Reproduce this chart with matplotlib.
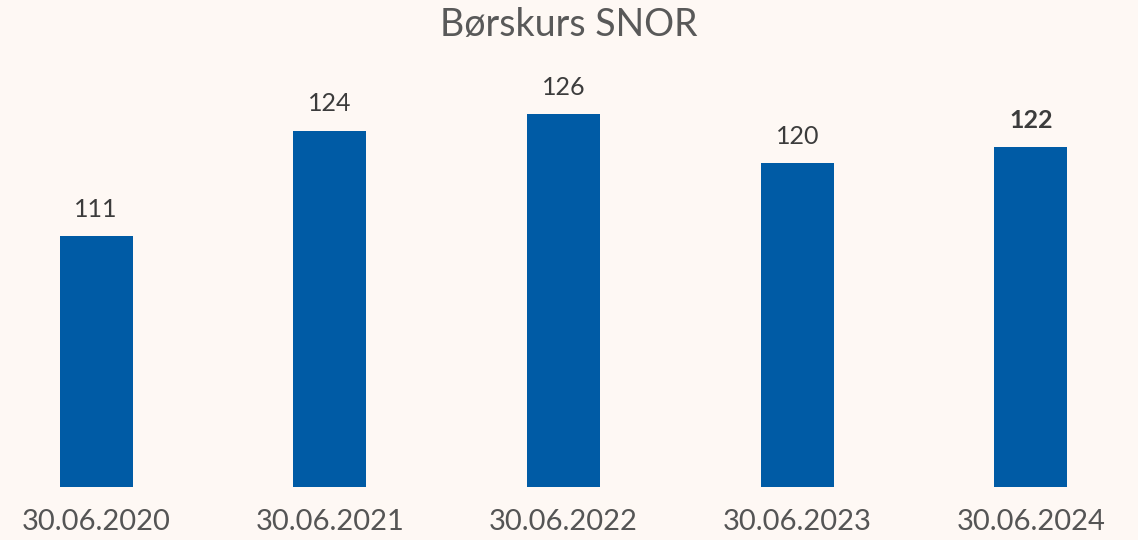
import matplotlib
matplotlib.use('Agg')
import matplotlib.pyplot as plt

dates = ['30.06.2020', '30.06.2021', '30.06.2022', '30.06.2023', '30.06.2024']
kurs = [111, 124, 126, 120, 122]
labels = ['111', '124', '126', '120', '122']

bg = '#FEF8F4'
bar_col = '#005BA5'

plt.rcParams['font.family'] = ['Lato', 'DejaVu Sans']

fig = plt.figure(figsize=(11.38, 5.4), dpi=100, facecolor=bg)
ax = fig.add_axes([0, 0.098, 1, 0.825])
ax.set_facecolor(bg)

x = list(range(len(kurs)))
ax.bar(x, kurs, width=0.312, color=bar_col, bottom=0)

for i, (v, lab) in enumerate(zip(kurs, labels)):
    last = i == len(kurs) - 1
    ax.annotate(lab, (i, v), xytext=(0, 11), textcoords='offset points',
                ha='center', va='bottom', fontsize=18,
                color='#3C3C3C', fontweight='bold' if last else 'normal')

ax.set_ylim(80, 135)
ax.set_xlim(-0.411, 4.458)
ax.set_xticks(x)
ax.set_xticklabels(dates, fontsize=21, color='#555555')
ax.tick_params(axis='x', length=0, pad=16)
ax.set_yticks([])
for s in ax.spines.values():
    s.set_visible(False)

fig.text(0.5, 0.953, 'Børskurs SNOR', ha='center', va='center',
         fontsize=27, color='#595959')

fig.savefig('out.png', dpi=100, facecolor=bg)
